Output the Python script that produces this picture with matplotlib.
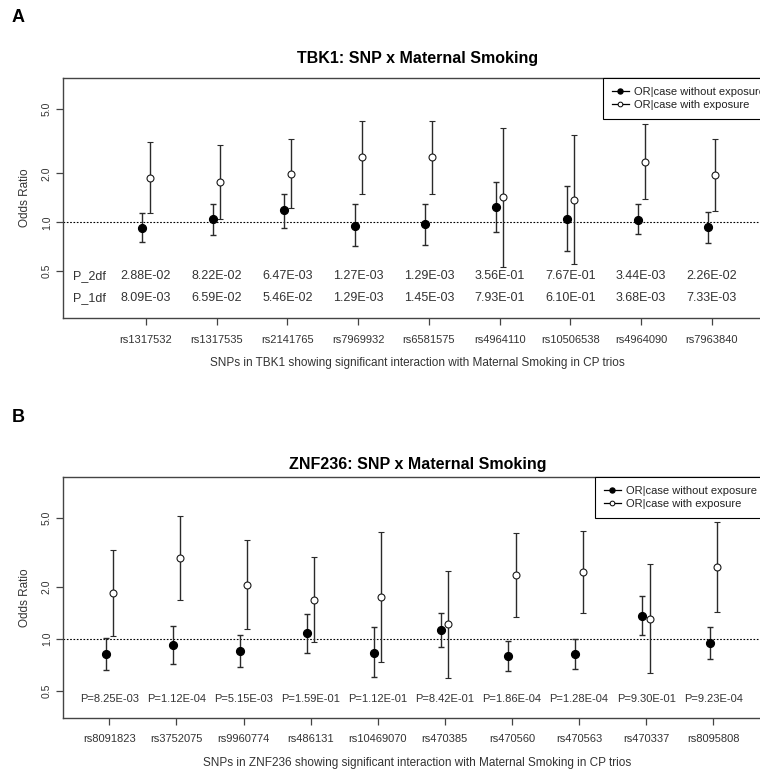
import numpy as np
import matplotlib
matplotlib.use('Agg')
from matplotlib import pyplot as plt
from matplotlib.lines import Line2D
from matplotlib.ticker import FixedLocator, NullLocator

plt.rcParams['font.family'] = ['Liberation Sans', 'DejaVu Sans']

# Panel A data (TBK1)
snps_a = ['rs1317532', 'rs1317535', 'rs2141765', 'rs7969932', 'rs6581575',
          'rs4964110', 'rs10506538', 'rs4964090', 'rs7963840']
or_unexp_a = [0.918, 1.043, 1.185, 0.953, 0.976, 1.247, 1.043, 1.033, 0.936]
lo_unexp_a = [0.753, 0.839, 0.926, 0.718, 0.725, 0.872, 0.663, 0.844, 0.746]
hi_unexp_a = [1.136, 1.300, 1.493, 1.290, 1.300, 1.763, 1.665, 1.290, 1.162]
or_exp_a = [1.88, 1.776, 1.99, 2.51, 2.51, 1.425, 1.366, 2.35, 1.946]
lo_exp_a = [1.14, 1.043, 1.22, 1.493, 1.486, 0.533, 0.552, 1.397, 1.178]
hi_exp_a = [3.10, 2.99, 3.27, 4.22, 4.22, 3.79, 3.43, 4.00, 3.24]
p2df_a = ['2.88E-02', '8.22E-02', '6.47E-03', '1.27E-03', '1.29E-03',
          '3.56E-01', '7.67E-01', '3.44E-03', '2.26E-02']
p1df_a = ['8.09E-03', '6.59E-02', '5.46E-02', '1.29E-03', '1.45E-03',
          '7.93E-01', '6.10E-01', '3.68E-03', '7.33E-03']

# Panel B data (ZNF236)
snps_b = ['rs8091823', 'rs3752075', 'rs9960774', 'rs486131', 'rs10469070',
          'rs470385', 'rs470560', 'rs470563', 'rs470337', 'rs8095808']
or_unexp_b = [0.816, 0.923, 0.856, 1.079, 0.834, 1.127, 0.798, 0.823, 1.358, 0.944]
lo_unexp_b = [0.662, 0.720, 0.689, 0.834, 0.604, 0.896, 0.651, 0.668, 1.054, 0.767]
hi_unexp_b = [1.010, 1.189, 1.059, 1.400, 1.168, 1.418, 0.970, 1.000, 1.763, 1.168]
or_exp_b = [1.835, 2.92, 2.05, 1.686, 1.74, 1.215, 2.33, 2.44, 1.304, 2.59]
lo_exp_b = [1.036, 1.672, 1.137, 0.957, 0.734, 0.596, 1.345, 1.41, 0.637, 1.43]
hi_exp_b = [3.25, 5.14, 3.71, 2.96, 4.16, 2.47, 4.07, 4.21, 2.71, 4.71]
p_b = ['8.25E-03', '1.12E-04', '5.15E-03', '1.59E-01', '1.12E-01',
       '8.42E-01', '1.86E-04', '1.28E-04', '9.30E-01', '9.23E-04']

fig = plt.figure(figsize=(7.6, 7.72), dpi=100)

W, H = 760.0, 772.0


def pix_axes(left, top, right, bottom):
    return fig.add_axes([left / W, 1 - bottom / H, (right - left) / W, (bottom - top) / H])


def draw_points(ax, x, est, lo, hi, filled):
    est = np.array(est)
    err = [est - np.array(lo), np.array(hi) - est]
    if filled:
        ax.errorbar(x, est, yerr=err, fmt='o', color='#1a1a1a', ecolor='#2a2a2a',
                    elinewidth=1.0, capsize=2.5, capthick=1.0,
                    markersize=5.6, mfc='black', mec='black', zorder=3)
    else:
        ax.errorbar(x, est, yerr=err, fmt='o', color='#1a1a1a', ecolor='#2a2a2a',
                    elinewidth=1.0, capsize=2.5, capthick=1.0,
                    markersize=5.0, mfc='white', mec='#1a1a1a', mew=0.8, zorder=3)


def style_axes(ax, snps, ylim, xlim, xlabel):
    ax.set_yscale('log')
    ax.set_ylim(*ylim)
    ax.set_xlim(*xlim)
    ax.axhline(1.0, color='black', linestyle=(0, (1.5, 1.5)), lw=0.8, zorder=1)
    ax.yaxis.set_major_locator(FixedLocator([0.5, 1.0, 2.0, 5.0]))
    ax.yaxis.set_minor_locator(NullLocator())
    ax.set_yticklabels(['0.5', '1.0', '2.0', '5.0'], rotation=90, va='center', fontsize=7.5,
                       color='#333333')
    x = np.arange(1, len(snps) + 1)
    ax.set_xticks(x)
    ax.set_xticklabels(snps, fontsize=8, color='#333333')
    ax.tick_params(axis='x', length=5, width=0.9, pad=7, color='#444444')
    ax.tick_params(axis='y', length=5, width=0.9, pad=3, color='#444444')
    for s in ax.spines.values():
        s.set_color('#444444')
        s.set_linewidth(1.0)
    ax.set_xlabel(xlabel, fontsize=8.5, color='#333333', labelpad=9)
    ax.set_ylabel('Odds Ratio', fontsize=8.5, color='#333333', labelpad=8)


def add_legend(ax, xanchor):
    handles = [
        Line2D([], [], color='black', lw=0.9, marker='o', markersize=3.6, mfc='black'),
        Line2D([], [], color='black', lw=0.9, marker='o', markersize=3.4, mfc='white', mew=0.7),
    ]
    # legend runs past the right edge, as in the original (cropped) figure
    leg = ax.legend(handles, ['OR|case without exposure', 'OR|case with exposure'],
                    loc='upper left', bbox_to_anchor=(xanchor, 1.0), borderaxespad=0,
                    fontsize=8, frameon=True, fancybox=False, framealpha=1,
                    edgecolor='black', borderpad=0.8, labelspacing=0.3,
                    handlelength=1.5, handletextpad=0.45)
    leg.get_frame().set_linewidth(0.8)
    for t in leg.get_texts():
        t.set_color('#222222')


# ---------------- Panel A ----------------
axA = pix_axes(63, 78, 772, 318)
xa = np.arange(1, len(snps_a) + 1)
dxa = 0.05
draw_points(axA, xa - dxa, or_unexp_a, lo_unexp_a, hi_unexp_a, True)
draw_points(axA, xa + dxa, or_exp_a, lo_exp_a, hi_exp_a, False)
style_axes(axA, snps_a, (0.258, 7.72), (-0.173, 9.85),
           'SNPs in TBK1 showing significant interaction with Maternal Smoking in CP trios')
rowA = axA.get_yaxis_transform()
axA.text(0.0137, 0.469, 'P_2df', transform=rowA, fontsize=9,
         ha='left', va='center', color='#333333')
axA.text(0.0137, 0.344, 'P_1df', transform=rowA, fontsize=9,
         ha='left', va='center', color='#333333')
for xi, p2, p1 in zip(xa, p2df_a, p1df_a):
    axA.text(xi, 0.469, p2, ha='center', va='center', fontsize=9, color='#333333')
    axA.text(xi, 0.344, p1, ha='center', va='center', fontsize=9, color='#333333')
add_legend(axA, (603 - 63) / (772 - 63))
axA.set_title('TBK1: SNP x Maternal Smoking', fontsize=11.5, fontweight='bold', pad=11)

# ---------------- Panel B ----------------
axB = pix_axes(63, 477, 772, 717.7)
xb = np.arange(1, len(snps_b) + 1)
dxb = 0.054
draw_points(axB, xb - dxb, or_unexp_b, lo_unexp_b, hi_unexp_b, True)
draw_points(axB, xb + dxb, or_exp_b, lo_exp_b, hi_exp_b, False)
style_axes(axB, snps_b, (0.351, 8.6), (0.31, 10.876),
           'SNPs in ZNF236 showing significant interaction with Maternal Smoking in CP trios')
for xi, p in zip(xb, p_b):
    axB.text(xi, 0.449, 'P=' + p, ha='center', va='center', fontsize=8, color='#333333')
add_legend(axB, (595 - 63) / (772 - 63))
axB.set_title('ZNF236: SNP x Maternal Smoking', fontsize=11.5, fontweight='bold', pad=6)

fig.text(12 / W, 1 - 18 / H, 'A', fontsize=13, fontweight='bold', ha='left', va='center')
fig.text(12 / W, 1 - 417 / H, 'B', fontsize=13, fontweight='bold', ha='left', va='center')

fig.savefig('out.png', dpi=100)
